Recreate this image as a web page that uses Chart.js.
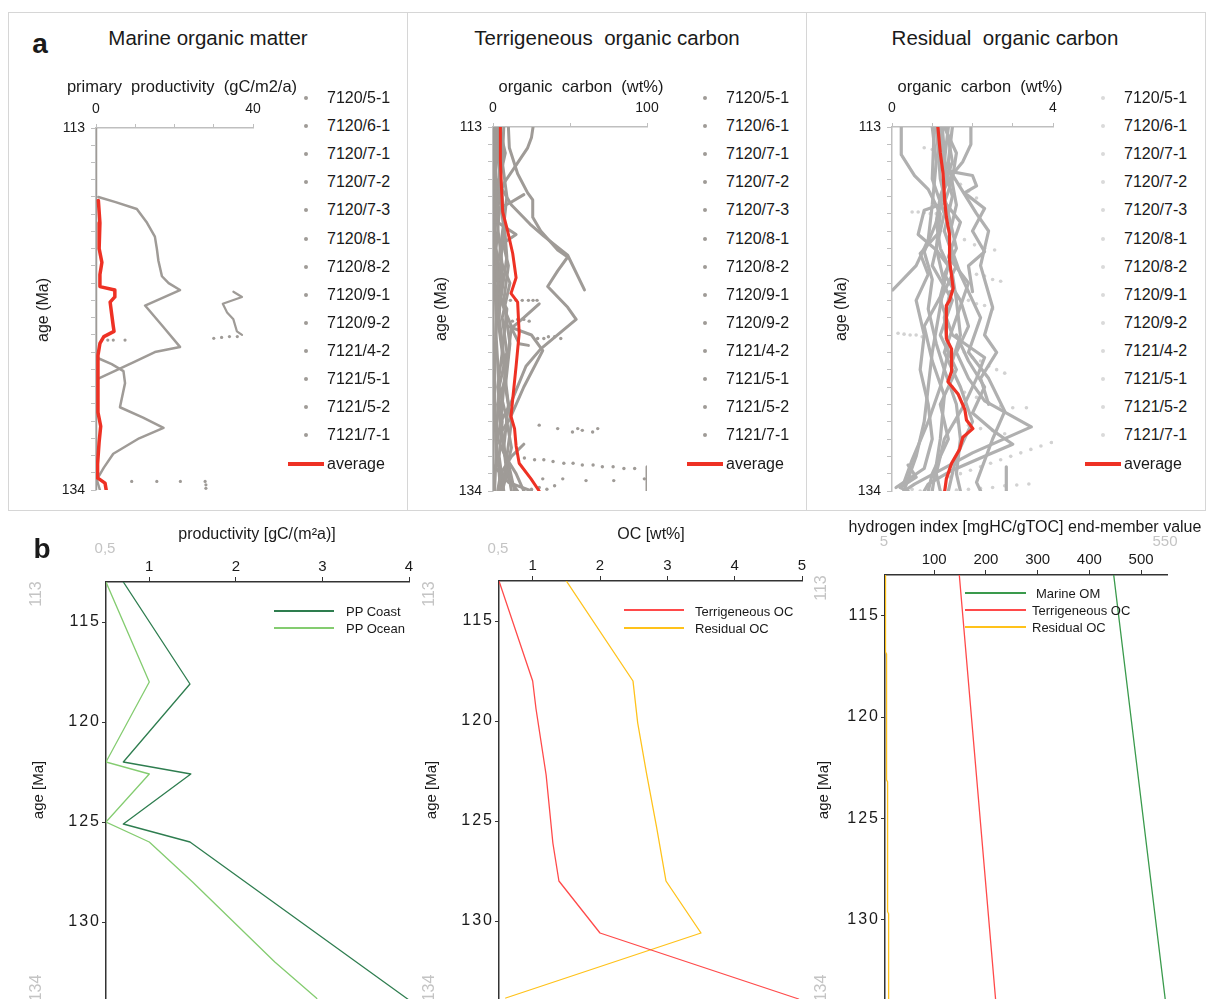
<!DOCTYPE html>
<html>
<head>
<meta charset="utf-8">
<script src="https://cdn.jsdelivr.net/npm/chart.js@4.4.1/dist/chart.umd.min.js"></script>
<style>
  body { margin: 0; background: #fff; font-family: "Liberation Sans", Arial, sans-serif; color: #1a1a1a; }
  #fig { position: relative; width: 1208px; height: 999px; overflow: hidden; background: #fff; }
  #fig canvas { position: absolute; }
  .t { position: absolute; white-space: pre; line-height: 1; }
  .box { position: absolute; border: 1px solid #d6d6d6; }
  .rule { position: absolute; background: #d6d6d6; }
  .key { position: absolute; height: 1.5px; }
  .dot { position: absolute; width: 4px; height: 4px; border-radius: 50%; }
</style>
</head>
<body>
<div id="fig"></div>
<script>
// ---- data (a): wells, ages, records ----
const wells = ['7120/5-1', '7120/6-1', '7120/7-1', '7120/7-2', '7120/7-3', '7120/8-1', '7120/8-2',
  '7120/9-1', '7120/9-2', '7121/4-2', '7121/5-1', '7121/5-2', '7121/7-1'];
const ageTicksA = [113, 114, 115, 116, 117, 118, 119, 120, 121, 122, 123, 124, 125, 126, 127, 128, 129, 130, 131, 132, 133, 134];
const ageLabelsA = [113, 134];

// marine organic matter, primary productivity (gC/m2/a) vs age
const marBase = [[0, 113], [0, 134]];
const marMain = [[0.6, 117.0], [5, 117.3], [10.4, 117.7], [13, 118.5], [15, 119.3], [15.5, 120.0], [15.9, 120.7], [16.8, 121.6],
  [18.5, 122.0], [21.4, 122.4], [12.5, 123.3], [17, 124.5], [21.4, 125.7], [15, 126.0], [9.5, 126.6], [1, 127.5], [0, 127.6]];
const marLoop = [[0, 126.3], [4, 126.7], [7, 127.1], [7.4, 127.8], [6.1, 129.2], [12, 129.8], [17.2, 130.4], [11, 131.0],
  [4.4, 131.9], [2, 132.7], [0.2, 133.4], [1, 134]];
const marSide = [[35, 122.5], [37.2, 122.8], [32.3, 123.2], [33.4, 123.7], [35, 124.1], [35.9, 124.8], [37.2, 125.0]];
const marDotsA = [[30, 125.2], [32, 125.15], [34, 125.1], [36, 125.1], [3, 125.3], [4.4, 125.3], [7.4, 125.3]];
const marDotsB = [[9.1, 133.5], [15.5, 133.5], [21.5, 133.5], [27.8, 133.5], [28, 133.7], [28, 133.9]];
const marAvg = [[0.6, 117.2], [1, 118.5], [0.8, 120], [1.5, 120.8], [1, 121.5], [1, 122.2], [4.8, 122.4], [4.8, 122.8],
  [3.6, 123.1], [4, 123.8], [4.4, 124.5], [4.6, 124.8], [2, 125.1], [1, 125.5], [0.5, 126.2], [0.5, 129.5], [1.2, 130.3],
  [0.8, 131.2], [0.4, 132.5], [0.4, 133.3], [2.3, 133.6], [2.6, 134]];

// terrigeneous organic carbon (wt%) vs age
const terA = [[26, 113], [25, 113.6], [22.5, 114.2], [15, 115.2], [7.4, 116.2], [3, 117.2], [2, 118.5]];
const terB = [[10, 113], [10.6, 114.2], [16, 115.7], [22.5, 116.8], [25.8, 117.2], [25.8, 118.2], [31, 119], [42, 120.1],
  [48.5, 120.5], [42, 121.3], [35.5, 122.2], [48.5, 123.4], [54, 124.1], [31, 125.8], [21.4, 126.8], [11.7, 128.9], [5, 130], [3, 131]];
const terC = [[2, 116], [12, 117.5], [24, 118.6], [33, 119.3], [48.5, 120.4], [59.4, 122.4]];
const terD = [[1, 117.8], [10.6, 117.4], [20, 116.9]];
const terE = [[10, 124.5], [25, 125], [32.3, 125.9], [20, 128], [10.6, 129.9], [6, 130.5]];
const terF = [[3, 118.5], [15, 119.2], [5, 119.8]];
const terG = [[20, 131.3], [12, 132], [5, 133], [3, 134]];
const terH = [[3, 131], [8, 132], [15, 133], [20, 134]];
const terI = [[0, 132.5], [10, 133.5], [25, 134]];
const terJ = [[1, 113], [2, 116], [1, 119], [3, 122], [2, 125], [4, 128], [2, 131], [5, 134]];
const terK = [[3, 113], [5, 115], [2, 118], [6, 121], [4, 124], [8, 127], [5, 130], [9, 133], [6, 134]];
const terL = [[0, 113], [0, 134]];
const terM = [[5, 113], [4, 116], [7, 119], [3, 122.5], [9, 123.5], [6, 126], [10, 129], [7, 131.5], [12, 134]];
const terN = [[2, 113.5], [6, 117], [9, 120.5], [5, 123], [12, 124.5], [8, 127.5], [3, 129], [9, 132.5], [4, 134]];
const terO = [[30, 123.2], [20, 124], [12, 124.6], [17, 125.5], [23, 125.6]];
const terQ = [[7, 113], [6, 115], [9, 117], [6, 119.5], [10, 121], [7, 123], [11, 125.5], [8, 128], [12, 130], [9, 132], [14, 134]];
const terR = [[1.5, 113], [3, 114.5], [1, 116], [4, 118], [2, 120], [5, 122], [3, 124], [6, 126], [3, 128], [6, 130], [4, 132], [7, 134]];
const terS = [[0.5, 113], [1, 116], [0.5, 120], [2, 124], [1, 128], [2, 132], [1, 134]];
const terT = [[4, 113], [8, 114.5], [3, 116.5], [7, 118.5], [4, 120.5], [11, 122], [6, 124], [9, 126], [4, 128], [8, 129.5],
  [12, 131.5], [8, 133], [16, 134]];
const terV = [[100, 132.6], [100, 134]];
const terP1 = [[11.3, 123], [15, 123], [19, 123], [23, 123], [26, 123], [28.6, 123]];
const terP2 = [[12.6, 124.2], [16, 124.1], [20, 124.1], [23.5, 124.2]];
const terP3 = [[29, 125.2], [33, 125.2], [36, 125.1], [40, 125.1], [44, 125.2]];
const terP4 = [[30, 130.2], [42, 130.4], [51.6, 130.6], [55, 130.4], [58, 130.5], [64.7, 130.6], [68, 130.4]];
const terP5 = [[20.4, 132.1], [27, 132.2], [33, 132.2], [39, 132.3], [46, 132.4], [52, 132.4], [58, 132.5], [65, 132.5],
  [71, 132.6], [78, 132.6], [85, 132.7], [92, 132.7]];
const terP6 = [[32.3, 133.3], [45.3, 133.3], [60.4, 133.4], [78.4, 133.4], [98.3, 133.3]];
const terP7 = [[20, 134], [25, 133.9], [30, 133.8], [35, 133.9], [40, 133.7]];
const terAvg = [[4.8, 113], [4.8, 114.9], [5.5, 116.5], [6.3, 117.9], [9.5, 119], [12.8, 120.3], [15, 121.7], [11.7, 122.6],
  [16, 123.1], [17, 124.9], [15, 126.8], [12.8, 128.7], [11.7, 129.7], [14, 130.4], [15, 131.4], [17, 132.4], [24.7, 133.3], [30, 134]];

// residual organic carbon (wt%) vs age
const resA = [[0.23, 113], [0.23, 114.6], [0.56, 115.8], [0.9, 116.6], [1.2, 118], [1.1, 120], [1.3, 122], [1.15, 124],
  [1.0, 126], [0.9, 128], [0.8, 130], [0.6, 132], [0.4, 133.3], [0.3, 134]];
const resB = [[1.96, 113], [1.96, 114], [1.76, 115], [1.48, 115.8], [1.2, 117], [1.1, 118.5], [1.2, 120], [1.5, 121.5],
  [1.6, 123], [1.7, 125], [1.5, 126.5]];
const resC = [[1.0, 113], [1.1, 115], [1.0, 117.5], [0.9, 119.5], [0.6, 121], [0.02, 122.4]];
const resD = [[1.2, 113], [1.3, 115.5], [2.0, 115.8], [2.1, 116.4], [1.8, 116.8], [2.3, 117.7], [2.0, 119], [2.3, 120.2],
  [1.9, 121], [2.0, 122.5]];
const resE = [[1.3, 113], [1.6, 114.5], [1.5, 116], [1.3, 117.4], [0.8, 117.8], [0.65, 119.2], [1.1, 120.1], [1.4, 121],
  [1.2, 122.8], [0.8, 124.5], [1.0, 126.5], [1.3, 128.5], [1.2, 131], [1.0, 134]];
const resF = [[1.4, 113], [1.3, 115], [1.7, 116.5], [2.1, 118], [2.4, 119], [2.2, 121], [2.5, 123.4], [2.3, 125], [2.6, 126],
  [2.2, 127.5], [2.4, 129]];
const resG = [[1.1, 113], [1.2, 116], [1.4, 118], [1.6, 120], [1.3, 121.5], [1.7, 123], [1.9, 124.5], [1.6, 126], [1.9, 127.5],
  [2.3, 128.8], [3.46, 130.3], [2.0, 131.8], [0.56, 133.6], [0.3, 134]];
const resH = [[1.25, 113], [1.35, 116], [1.1, 118.5], [0.8, 120.2], [1.0, 121.8], [0.9, 123.5], [1.1, 125.5], [1.3, 127],
  [1.6, 129], [1.7, 131], [1.6, 133], [1.7, 134]];
const resI = [[1.5, 113], [1.4, 115], [1.6, 117.5], [1.4, 119.5], [1.7, 121.5], [2.0, 123], [2.2, 124], [1.9, 126], [2.4, 127.5],
  [2.8, 129.4], [2.5, 131], [2.1, 133.5], [2.2, 134]];
const resJ = [[1.2, 119], [0.7, 120.3], [0.9, 121.5], [0.6, 123], [0.8, 125], [0.7, 127], [0.9, 129], [1.0, 131], [0.8, 132.7], [0.1, 133.8]];
const resK = [[1.15, 114], [1.5, 117], [1.3, 119], [1.6, 121], [1.2, 123], [1.5, 125], [2.3, 126.3], [2.1, 127.5], [1.8, 129],
  [1.3, 131], [1.1, 133], [1.2, 134]];
const resL = [[1.45, 122.5], [1.3, 124], [1.4, 126], [1.2, 128], [0.9, 130], [0.5, 132.2], [0.3, 133.5]];
const resM = [[2.84, 132.6], [2.84, 134]];
const resO = [[1.6, 125], [1.9, 126.5], [2.3, 128], [2.0, 129.5], [2.5, 130.5], [3.0, 131.3], [2.3, 132], [1.5, 132.8], [0.9, 133.6], [0.8, 134]];
const resQ = [[1.35, 113], [1.5, 115], [1.2, 117], [1.7, 118.5], [1.4, 120.5], [1.9, 122], [1.6, 124], [1.3, 126], [1.7, 128],
  [2.0, 130], [1.6, 132], [1.4, 134]];
const resR = [[1.05, 113], [1.0, 116], [1.3, 118], [1.0, 121], [1.5, 123], [1.2, 125], [1.6, 127], [1.2, 129], [1.4, 131], [1.0, 133], [0.9, 134]];
const resS = [[0.4, 132.5], [0.6, 133.2], [0.2, 133.8], [0.4, 134]];
const resP1 = [[3.96, 131.2], [3.7, 131.4], [3.45, 131.6], [3.2, 131.8], [2.95, 132.0], [2.7, 132.2], [2.45, 132.4], [2.2, 132.6],
  [1.95, 132.8], [1.7, 133.0], [1.45, 133.2]];
const resP2 = [[1.3, 134], [1.6, 133.95], [1.9, 133.9], [2.2, 133.85], [2.5, 133.8], [2.8, 133.7], [3.1, 133.65], [3.4, 133.6]];
const resP3 = [[0.15, 124.9], [0.3, 124.95], [0.45, 125], [0.6, 125], [0.75, 125.1]];
const resP4 = [[1.3, 119], [1.55, 119.3], [1.8, 119.5], [2.05, 119.8], [2.3, 120], [2.55, 120.1]];
const resP5 = [[0.5, 117.9], [0.65, 117.9], [0.8, 117.95], [0.95, 118], [1.1, 118]];
const resP6 = [[1.5, 128], [1.8, 128.3], [2.1, 128.6], [2.4, 128.9], [2.7, 129.1], [3.0, 129.2], [3.34, 129.2]];
const resP7 = [[1.3, 115.5], [1.5, 115.9], [1.7, 116.3], [1.9, 116.7], [2.1, 117.1]];
const resP8 = [[1.8, 126], [2.0, 126.3], [2.2, 126.5], [2.4, 126.8], [2.6, 127], [2.8, 127.2]];
const resP9 = [[0.3, 133.9], [0.5, 133.9], [0.7, 134], [1.0, 133.95]];
const resP10 = [[2.1, 121.5], [2.3, 121.6], [2.5, 121.8], [2.7, 121.9]];
const resP11 = [[1.9, 123], [2.1, 123.2], [2.3, 123.3], [2.5, 123.5]];
const resP12 = [[1.6, 130], [1.9, 130.2], [2.2, 130.4], [2.5, 130.5], [2.8, 130.7]];
const resP13 = [[0.8, 114.2], [1.0, 114.3], [1.2, 114.4]];
const resAvg = [[1.14, 113], [1.2, 114.5], [1.27, 115.7], [1.31, 117.3], [1.35, 118.2], [1.43, 119.2], [1.43, 120.7], [1.52, 122.3],
  [1.43, 123], [1.35, 123.3], [1.35, 125.2], [1.48, 125.8], [1.48, 127.1], [1.39, 127.7], [1.64, 128.4], [1.81, 129.3],
  [1.85, 129.9], [2.01, 130.4], [1.76, 130.9], [1.68, 131.6], [1.48, 132.4], [1.35, 133.3], [1.31, 134]];

// ---- data (b): model end-members ----
const ageTicksB = [115, 120, 125, 130];
const ppCoast = [[0.7, 113], [1.47, 118.1], [0.7, 122], [1.48, 122.6], [0.7, 125.1], [1.47, 126], [4, 133.9]];
const ppOcean = [[0.5, 113], [1.0, 118], [0.5, 122], [1.0, 122.6], [0.5, 125], [1.0, 126], [1.5, 128], [2.45, 132], [2.93, 133.8], [2.96, 134]];
const ocTerr = [[0.5, 113], [1.0, 118], [1.05, 119.4], [1.2, 122.7], [1.3, 126.1], [1.39, 128], [2.0, 130.6], [4.95, 133.9]];
const ocResid = [[1.5, 113], [2.49, 118], [2.56, 120.1], [2.69, 122.6], [2.84, 125.3], [2.98, 128], [3.5, 130.6], [0.6, 133.85]];
const hiMarine = [[447, 113], [547, 134]];
const hiTerr = [[148.6, 113], [219, 134]];
const hiResid = [[6, 113], [6, 116.8], [8, 116.9], [8, 123.1], [10, 123.2], [10, 129.6], [12, 129.7], [12, 134]];

// ---- helpers ----
const fig = document.getElementById('fig');
const px = v => v + 'px';
Chart.defaults.font.family = '"Liberation Sans", Arial, sans-serif';

function addText(txt, x, y, o = {}) {
  const d = document.createElement('div');
  d.className = 't';
  d.textContent = txt;
  d.style.left = px(x);
  d.style.top = px(y);
  d.style.fontSize = px(o.size || 15);
  if (o.color) d.style.color = o.color;
  if (o.bold) d.style.fontWeight = 'bold';
  const base = o.left ? 'translate(0,-50%)' : 'translate(-50%,-50%)';
  d.style.transform = base + (o.rot ? ` rotate(${o.rot}deg)` : '');
  fig.appendChild(d);
}

function addEl(cls, x, y, w, h, color) {
  const d = document.createElement('div');
  d.className = cls;
  d.style.left = px(x);
  d.style.top = px(y);
  if (w !== null) d.style.width = px(w);
  if (h !== null) d.style.height = px(h);
  if (color) d.style.background = color;
  fig.appendChild(d);
}

const pts = arr => arr.map(([x, y]) => ({ x, y }));

function lineSet(arr, color, w) {
  return { data: pts(arr), showLine: true, borderColor: color, borderWidth: w, pointRadius: 0,
    tension: 0, borderJoinStyle: 'round', borderCapStyle: 'round' };
}

function dotSet(arr, color, r) {
  return { data: pts(arr), showLine: false, pointRadius: r, pointBackgroundColor: color,
    backgroundColor: color, pointBorderWidth: 0, borderWidth: 0 };
}

function axisOpts(a, pos, size) {
  return {
    type: 'linear', position: pos, min: a.min, max: a.max, reverse: !!a.reverse,
    afterBuildTicks: s => { s.ticks = a.ticks.map(v => ({ value: v })); },
    afterFit: s => {
      if (pos === 'top') s.height = size; else s.width = size;
      // spaced digits on the age axis of panel b
      if (a.spacing && !s._spaced) {
        const orig = s.drawLabels;
        s.drawLabels = function (area) {
          this.ctx.save();
          this.ctx.letterSpacing = a.spacing;
          orig.call(this, area);
          this.ctx.restore();
        };
        s._spaced = true;
      }
    },
    ticks: { autoSkip: false, maxRotation: 0, padding: a.pad, color: '#1a1a1a', font: { size: a.font },
      callback: v => a.labels.includes(v) ? String(v) : '' },
    grid: { drawOnChartArea: false, drawTicks: true, tickLength: a.tick, color: a.color, lineWidth: 1 },
    border: { display: true, color: a.color, width: a.width }
  };
}

// box: canvas position/size plus the wanted plot area edges (pl, pt, pr, pb) in page pixels
function buildChart(box, xAxis, yAxis, datasets) {
  const cv = document.createElement('canvas');
  cv.width = box.w;
  cv.height = box.h;
  cv.style.left = px(box.x);
  cv.style.top = px(box.y);
  fig.appendChild(cv);
  new Chart(cv, {
    type: 'scatter',
    data: { datasets },
    options: {
      responsive: false, animation: false, devicePixelRatio: 1, events: [],
      layout: { padding: { left: 0, top: 0, right: box.x + box.w - box.pr, bottom: box.y + box.h - box.pb } },
      plugins: { legend: { display: false }, tooltip: { enabled: false } },
      scales: {
        x: axisOpts(xAxis, 'top', box.pt - box.y),
        y: axisOpts(yAxis, 'left', box.pl - box.x)
      }
    }
  });
}

// ---- panel a ----
const RED = '#ee3124';
const greyA = '#9f9b97';
const greyR = '#b0b0b0';
const dotR = '#d2d2d2';
const axA = { color: '#bfbfbf', width: 1.5, tick: 4, pad: 6, font: 14 };
const yA = { ...axA, min: 113, max: 134, reverse: true, ticks: ageTicksA, labels: ageLabelsA, tick: 5, pad: 6 };

addEl('box', 8, 12, 1196, 497, null);
addEl('rule', 407, 12, 1, 498, null);
addEl('rule', 806, 12, 1, 498, null);

buildChart({ x: 16, y: 60, w: 270, h: 455, pl: 96, pt: 128, pr: 253, pb: 490 },
  { ...axA, min: 0, max: 40, ticks: [0, 10, 20, 30, 40], labels: [0, 40] }, yA,
  [lineSet(marAvg, RED, 3.5), lineSet(marBase, greyA, 2.5), lineSet(marMain, greyA, 2.5), lineSet(marLoop, greyA, 2.5),
   lineSet(marSide, greyA, 2.2), dotSet(marDotsA, greyA, 1.6), dotSet(marDotsB, greyA, 1.6)]);

buildChart({ x: 413, y: 60, w: 270, h: 455, pl: 493, pt: 127, pr: 647, pb: 491 },
  { ...axA, min: 0, max: 100, ticks: [0, 50, 100], labels: [0, 100] }, yA,
  [lineSet(terAvg, RED, 3), ...[terA, terB, terC, terD, terE, terF, terG, terH, terI, terJ, terK, terL, terM, terN, terO,
    terQ, terR, terS, terT, terV].map(s => lineSet(s, greyA, 3)),
   ...[terP1, terP2, terP3, terP4, terP5, terP6, terP7].map(s => dotSet(s, greyA, 1.7))]);

buildChart({ x: 812, y: 60, w: 275, h: 455, pl: 892, pt: 127, pr: 1053, pb: 491 },
  { ...axA, min: 0, max: 4, ticks: [0, 1, 2, 3, 4], labels: [0, 4] }, yA,
  [lineSet(resAvg, RED, 3.2), ...[resA, resB, resC, resD, resE, resF, resG, resH, resI, resJ, resK, resL, resM, resO,
    resQ, resR, resS].map(s => lineSet(s, greyR, 3.2)),
   ...[resP1, resP2, resP3, resP4, resP5, resP6, resP7, resP8, resP9, resP10, resP11, resP12, resP13]
    .map(s => dotSet(s, dotR, 1.8))]);

addText('a', 40, 44, { size: 28, bold: true });
addText('Marine organic matter', 208, 38, { size: 20.5 });
addText('Terrigeneous  organic carbon', 607, 38, { size: 20.5 });
addText('Residual  organic carbon', 1005, 38, { size: 20.5 });
addText('primary  productivity  (gC/m2/a)', 182, 86, { size: 16.5 });
addText('organic  carbon  (wt%)', 581, 86, { size: 16.5 });
addText('organic  carbon  (wt%)', 980, 86, { size: 16.5 });
addText('age (Ma)', 43, 310, { size: 16, rot: -90 });
addText('age (Ma)', 441, 309, { size: 16, rot: -90 });
addText('age (Ma)', 841, 309, { size: 16, rot: -90 });

// legends of panel a
[[306, 327, greyA, 288], [705, 726, greyA, 687], [1103, 1124, '#dadada', 1085]].forEach(([xd, xt, c, xl]) => {
  wells.forEach((w, i) => {
    const y = 98 + i * 28.1;
    addEl('dot', xd - 2, y - 2, 4, 4, c);
    addText(w, xt, y, { size: 16, left: true });
  });
  addEl('key', xl, 462, 36, 4, RED);
  addText('average', xt, 464, { size: 16, left: true });
});

// ---- panel b ----
const axB = { color: '#333', width: 1.5, tick: 5, pad: 1, font: 15 };
const yB = { ...axB, min: 113, max: 134, reverse: true, ticks: ageTicksB, labels: ageTicksB, tick: 4, pad: 1, font: 16, spacing: '2px' };
const C_COAST = '#2e7d4f', C_OCEAN = '#84cc70', C_TERR = '#ff4a4a', C_RESID = '#ffc21a', C_MARINE = '#3a9a4c';

buildChart({ x: 20, y: 510, w: 405, h: 515, pl: 106, pt: 582, pr: 409, pb: 1002 },
  { ...axB, min: 0.5, max: 4, ticks: [1, 2, 3, 4], labels: [1, 2, 3, 4] }, yB,
  [lineSet(ppCoast, C_COAST, 1.3), lineSet(ppOcean, C_OCEAN, 1.3)]);

buildChart({ x: 430, y: 510, w: 390, h: 515, pl: 499, pt: 581, pr: 802, pb: 1001 },
  { ...axB, min: 0.5, max: 5, ticks: [1, 2, 3, 4, 5], labels: [1, 2, 3, 4, 5] }, yB,
  [lineSet(ocTerr, C_TERR, 1.3), lineSet(ocResid, C_RESID, 1.3)]);

buildChart({ x: 820, y: 505, w: 388, h: 520, pl: 885, pt: 575, pr: 1167, pb: 1001 },
  { ...axB, min: 5, max: 550, ticks: [100, 200, 300, 400, 500], labels: [100, 200, 300, 400, 500] }, yB,
  [lineSet(hiResid, C_RESID, 1.3), lineSet(hiTerr, C_TERR, 1.3), lineSet(hiMarine, C_MARINE, 1.3)]);

addText('b', 42, 549, { size: 28, bold: true });
addText('productivity [gC/(m²a)]', 257, 534, { size: 16 });
addText('OC [wt%]', 651, 534, { size: 16 });
addText('hydrogen index [mgHC/gTOC] end-member value', 1025, 527, { size: 16 });
const GREY_T = '#c4c4c4';
addText('0,5', 105, 547, { size: 15, color: GREY_T });
addText('0,5', 498, 547, { size: 15, color: GREY_T });
addText('5', 884, 540, { size: 15, color: GREY_T });
addText('550', 1165, 540, { size: 15, color: GREY_T });
[36, 429, 821].forEach((x, i) => {
  addText('113', x, i === 2 ? 588 : 594, { size: 16, color: GREY_T, rot: -90 });
  addText('134', x, 988, { size: 16, color: GREY_T, rot: -90 });
  addText('age [Ma]', x + 1, 790, { size: 15, rot: -90 });
});

// legends of panel b
addEl('key', 274, 610, 60, 1.5, C_COAST);
addEl('key', 274, 627, 60, 1.5, C_OCEAN);
addText('PP Coast', 346, 611, { size: 13, left: true });
addText('PP Ocean', 346, 628, { size: 13, left: true });
addEl('key', 624, 609, 60, 1.5, C_TERR);
addEl('key', 624, 627, 60, 1.5, C_RESID);
addText('Terrigeneous OC', 695, 611, { size: 13, left: true });
addText('Residual OC', 695, 628, { size: 13, left: true });
addEl('key', 965, 592, 61, 1.5, C_MARINE);
addEl('key', 965, 609, 61, 1.5, C_TERR);
addEl('key', 965, 626, 61, 1.5, C_RESID);
addText('Marine OM', 1036, 593, { size: 13, left: true });
addText('Terrigeneous OC', 1032, 610, { size: 13, left: true });
addText('Residual OC', 1032, 627, { size: 13, left: true });
</script>
</body>
</html>
